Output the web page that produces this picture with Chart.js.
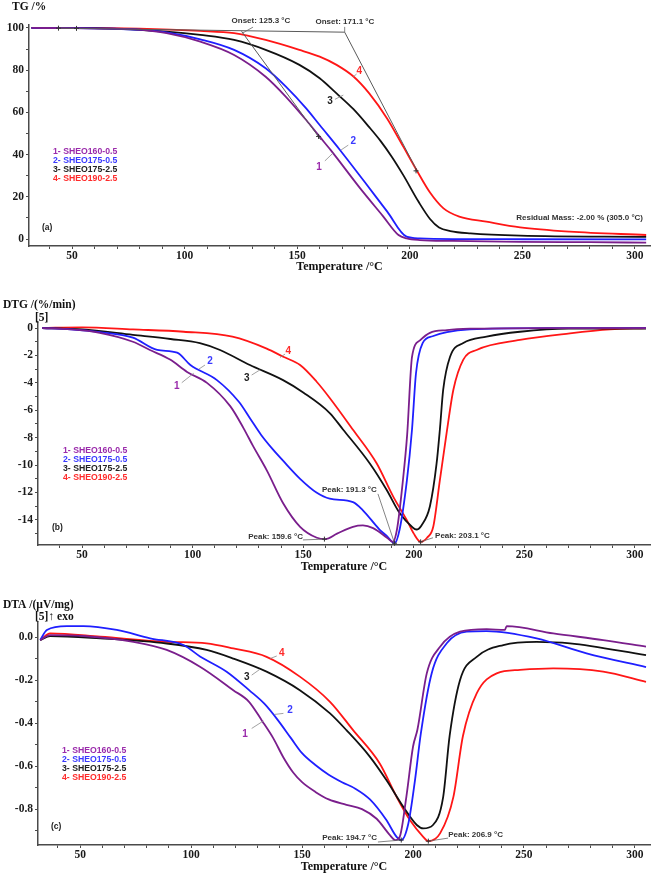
<!DOCTYPE html>
<html><head><meta charset="utf-8">
<script src="https://cdn.jsdelivr.net/npm/chart.js@4.4.1/dist/chart.umd.min.js"></script>
<style>
html,body{margin:0;padding:0;background:#fff;}
#wrap{position:relative;width:653px;height:875px;overflow:hidden;background:#fff;}
canvas{position:absolute;left:0;}
</style></head><body>
<div id="wrap">
<canvas id="cA" width="653" height="290" style="top:0px;width:653px;height:290px"></canvas>
<canvas id="cB" width="653" height="300" style="top:290px;width:653px;height:300px"></canvas>
<canvas id="cC" width="653" height="285" style="top:590px;width:653px;height:285px"></canvas>
</div>
<script>
// ---------- series names ----------
const seriesNames = ['1- SHEO160-0.5', '2- SHEO175-0.5', '3- SHEO175-2.5', '4- SHEO190-2.5'];
const curveNumbers = ['1', '2', '3', '4'];

// ---------- TG (%) ----------
const tgT1 = [32, 50, 65, 77, 92, 107, 122, 136, 145, 154, 160, 165, 178, 188, 195, 198.6, 204.5, 219, 249, 280, 305];
const tg1  = [100, 99.9, 99.7, 99.4, 97.5, 93.5, 87.2, 76.9, 67.4, 56.4, 48.5, 42, 24, 11, 1.9, 0.3, -0.5, -0.9, -1.3, -1.5, -1.7];
const tgT2 = [32, 50, 65, 80, 92, 107, 122, 136, 145, 154, 160, 169, 180, 190, 198.6, 204.5, 219, 250, 305];
const tg2  = [100, 99.9, 99.7, 99.2, 97.9, 94.6, 89.6, 80.9, 72.2, 61.9, 54, 42.2, 27, 13, 1.1, 0.3, 0, -0.1, -0.2];
const tgT3 = [32, 50, 70, 92, 107, 122, 136, 151, 160, 167.5, 175, 182, 187, 192, 197, 204, 209, 213, 218, 227, 249, 305];
const tg3  = [100, 100, 99.6, 98.3, 96.7, 94.3, 89.6, 82.5, 76.2, 69, 61.5, 53, 46.5, 39, 30.5, 17.5, 9.5, 5.5, 3.8, 2.7, 1.6, 1.0];
const tgT4 = [32, 50, 80, 107, 122, 136, 151, 160, 167.5, 175, 182, 190, 197, 203, 209, 215, 222, 234, 249, 271, 305];
const tg4  = [100, 100, 99.7, 98.6, 97.5, 94.3, 89.6, 86.4, 82.5, 77, 69, 57, 44, 32.7, 22, 14.5, 10.6, 8.2, 5.5, 3.5, 1.9];
// onset construction lines
const onsetBaseT = [44, 171.1], onsetBase = [99.9, 98.0];
const onset1T = [125.3, 160.5], onset1 = [98.4, 47];
const onset2T = [171.1, 203.5], onset2 = [98.0, 31.8];

// ---------- DTG (%/min) ----------
const dtgT1 = [32, 45, 58, 73, 80.7, 89.8, 97.5, 106.5, 117, 123, 127.3, 133.6, 141, 148.6, 156.2, 160, 165.3, 172.5, 177, 181.6, 187.9, 190.5, 192.4, 195.1, 197, 199.2, 202.8, 207.3, 215, 225.4, 260, 305];
const dtg1  = [0, -0.1, -0.35, -1.0, -1.6, -2.3, -3.2, -4.0, -5.7, -7.3, -8.6, -10.4, -12.8, -14.5, -15.3, -15.4, -15.0, -14.5, -14.4, -14.6, -15.3, -15.6, -14.7, -11.1, -7.8, -2.1, -0.9, -0.35, -0.15, -0.05, 0, 0];
const dtgT2 = [32, 45, 58, 73, 84, 93, 99, 111, 121, 126, 131, 136, 141, 148.6, 156, 162, 172.5, 177, 184.5, 188, 191.3, 193.6, 196.9, 199.2, 201, 204, 208.5, 215, 225.4, 260, 305];
const dtg2  = [0, -0.1, -0.3, -0.7, -1.6, -1.8, -2.7, -3.8, -5.4, -6.6, -7.8, -8.8, -9.7, -11.0, -12.0, -12.45, -12.7, -13.3, -14.7, -15.2, -15.7, -14.7, -11.1, -7.4, -3.3, -1.1, -0.6, -0.3, -0.1, 0, 0];
const dtgT3 = [32, 50, 73, 90, 103.3, 112.4, 125.9, 140.9, 150, 162, 168, 180.2, 187.7, 193.6, 199.5, 201.2, 203.5, 207.3, 210.3, 211.8, 213.3, 216.4, 222.4, 232.9, 248, 270, 305];
const dtg3  = [0, -0.1, -0.5, -0.8, -1.1, -1.6, -2.7, -3.8, -4.7, -6.2, -7.4, -9.9, -11.8, -13.5, -14.55, -14.7, -14.4, -13.0, -9.9, -7.4, -4.5, -2.1, -1.1, -0.63, -0.27, -0.05, -0.05];
const dtgT4 = [32, 50, 73, 96, 118, 133.5, 141, 148.6, 156, 162, 172.6, 183.2, 190.7, 196.8, 200, 203.1, 206, 208.8, 211.8, 214.9, 217.9, 222.4, 228.4, 248, 270.6, 288.7, 305];
const dtg4  = [0, 0.05, -0.1, -0.27, -0.63, -1.5, -2.1, -2.7, -3.9, -5.1, -7.44, -9.87, -12.3, -14.0, -15.0, -15.6, -15.3, -14.5, -11.1, -7.6, -4.5, -2.3, -1.6, -0.87, -0.39, -0.1, 0];

// ---------- DTA (µV/mg) ----------
const dtaT1 = [32, 36.5, 51.5, 74, 89, 104, 119, 126, 132, 137, 141.6, 146, 150, 156, 162, 170, 177, 183.6, 189.6, 192, 194, 197, 200, 202, 206.2, 212.2, 221.2, 233.2, 241.4, 242.2, 263.2, 285.7, 305];
const dta1  = [-0.014, 0.009, 0.005, -0.022, -0.06, -0.138, -0.247, -0.30, -0.39, -0.47, -0.56, -0.63, -0.675, -0.72, -0.755, -0.78, -0.80, -0.845, -0.921, -0.944, -0.929, -0.743, -0.51, -0.43, -0.169, -0.045, 0.025, 0.037, 0.033, 0.051, 0.017, -0.014, -0.045];
const dtaT2 = [32, 35, 44, 51.5, 66.5, 81.5, 96.5, 104, 116, 126.5, 133, 139, 145, 150, 156, 162, 168, 174, 180.6, 188, 192.6, 194.7, 197.9, 200.9, 203.5, 208.4, 215.2, 224.2, 233.2, 255.7, 278.2, 305];
const dta2  = [-0.014, 0.033, 0.051, 0.051, 0.033, -0.006, -0.037, -0.09, -0.161, -0.25, -0.31, -0.385, -0.47, -0.54, -0.595, -0.64, -0.675, -0.705, -0.755, -0.851, -0.929, -0.944, -0.867, -0.665, -0.45, -0.169, -0.029, 0.025, 0.028, -0.006, -0.076, -0.14];
const dtaT3 = [32, 36.5, 59, 89, 107, 119, 134, 149, 162.6, 170, 180.6, 188, 195.6, 201.7, 204.6, 209, 213.6, 216.5, 221.2, 228.7, 240.7, 255.7, 270.7, 305];
const dta3  = [-0.014, 0.005, -0.006, -0.03, -0.06, -0.1, -0.161, -0.247, -0.355, -0.433, -0.557, -0.665, -0.789, -0.874, -0.89, -0.874, -0.743, -0.46, -0.2, -0.092, -0.037, -0.022, -0.029, -0.084];
const dtaT4 = [32, 36.5, 59, 89, 107, 119, 134, 149, 162.6, 173, 185, 192.6, 198.6, 204.6, 206.9, 212.2, 218.2, 222.5, 228.7, 237.7, 248.2, 263.2, 285.7, 305];
const dta4  = [-0.014, 0.017, 0.002, -0.022, -0.029, -0.053, -0.092, -0.184, -0.301, -0.433, -0.588, -0.743, -0.851, -0.929, -0.949, -0.913, -0.743, -0.46, -0.262, -0.169, -0.153, -0.146, -0.161, -0.208];

// ---------- styling ----------
const curveColors  = ['#7a1e8c', '#1f1fff', '#111111', '#ff1616'];
const legendColors = ['#9a2aab', '#3a3aff', '#222222', '#ff2a2a'];
const SERIF = '"Liberation Serif","Times New Roman",serif';
const SANS = '"Liberation Sans",Arial,sans-serif';
const AXIS = '#4a4a4a';

function pts(T, V) { return T.map((t, i) => ({ x: t, y: V[i] })); }

function curveSet(T, V, i) {
  return { label: seriesNames[i], data: pts(T, V), borderColor: curveColors[i], borderWidth: 1.8,
           pointRadius: 0, cubicInterpolationMode: 'monotone', fill: false };
}
function guideSet(T, V) {
  return { label: '', data: pts(T, V), borderColor: '#5a5a5a', borderWidth: 1, pointRadius: 0, tension: 0, fill: false };
}

function decor(cfg) {
  return {
    id: 'decor',
    afterDraw(chart) {
      const ctx = chart.ctx, xs = chart.scales.x, ys = chart.scales.y;
      const px = t => xs.getPixelForValue(t), py = v => ys.getPixelForValue(v);
      const area = chart.chartArea;
      ctx.save();
      ctx.textBaseline = 'middle';
      ctx.fillStyle = '#111'; ctx.textAlign = 'left';
      ctx.font = 'bold 11.5px ' + SERIF;
      ctx.fillText(cfg.title[0], cfg.title[1], cfg.title[2]);
      if (cfg.sub) ctx.fillText(cfg.sub[0], cfg.sub[1], cfg.sub[2]);
      ctx.textAlign = 'center';
      ctx.font = 'bold 12px ' + SERIF;
      ctx.fillText('Temperature /°C', (area.left + area.right) / 2, cfg.xTitleY);
      ctx.textAlign = 'left'; ctx.fillStyle = '#222';
      ctx.font = 'bold 8.5px ' + SANS;
      ctx.fillText(cfg.letter[0], cfg.letter[1], cfg.letter[2]);
      ctx.font = 'bold 8.7px ' + SANS;
      seriesNames.forEach((s, i) => {
        ctx.fillStyle = legendColors[i];
        ctx.fillText(s, cfg.legend[0], cfg.legend[1] + i * cfg.legend[2]);
      });
      ctx.strokeStyle = '#8a8a8a'; ctx.lineWidth = 0.8;
      cfg.numbers.forEach(n => {
        ctx.beginPath(); ctx.moveTo(px(n.from[0]), py(n.from[1])); ctx.lineTo(px(n.to[0]), py(n.to[1])); ctx.stroke();
      });
      ctx.strokeStyle = '#666';
      cfg.notes.forEach(n => {
        if (!n.from) return;
        ctx.beginPath(); ctx.moveTo(px(n.from[0]), py(n.from[1])); ctx.lineTo(px(n.to[0]), py(n.to[1])); ctx.stroke();
      });
      ctx.font = 'bold 10px ' + SANS; ctx.textAlign = 'center';
      cfg.numbers.forEach(n => {
        ctx.fillStyle = legendColors[n.c];
        ctx.fillText(curveNumbers[n.c], px(n.at[0]), py(n.at[1]));
      });
      ctx.font = 'bold 8px ' + SANS; ctx.fillStyle = '#333';
      cfg.notes.forEach(n => {
        ctx.textAlign = n.align || 'center';
        ctx.fillText(n.text, px(n.at[0]), py(n.at[1]));
      });
      ctx.strokeStyle = '#333'; ctx.lineWidth = 1;
      cfg.marks.forEach(m => {
        const x = px(m[0]), y = py(m[1]);
        ctx.beginPath(); ctx.moveTo(x - 2.5, y); ctx.lineTo(x + 2.5, y); ctx.moveTo(x, y - 2.5); ctx.lineTo(x, y + 2.5); ctx.stroke();
      });
      ctx.restore();
    }
  };
}

function makeChart(id, datasets, sc, cfg) {
  const tickFont = { family: SERIF, size: 11.5, weight: 'bold' };
  new Chart(document.getElementById(id), {
    type: 'line',
    data: { datasets },
    plugins: [decor(cfg)],
    options: {
      responsive: false, animation: false, devicePixelRatio: 1,
      layout: { padding: { top: sc.top, right: 3, left: 0, bottom: 0 } },
      plugins: { legend: { display: false }, tooltip: { enabled: false } },
      elements: { point: { radius: 0 } },
      scales: {
        x: {
          type: 'linear', min: sc.xmin, max: sc.xmax,
          afterFit: s => { s.height = sc.xh; },
          border: { display: true, color: AXIS, width: 1.5 },
          grid: { display: true, drawOnChartArea: false, drawTicks: true, tickLength: 3, color: AXIS },
          ticks: { stepSize: 10, autoSkip: false, includeBounds: false, maxRotation: 0, padding: 0,
                   color: '#1a1a1a', font: tickFont,
                   callback: v => (Math.round(v) % 50 === 0 ? String(Math.round(v)) : '') }
        },
        y: {
          type: 'linear', min: sc.ymin, max: sc.ymax,
          afterFit: s => { s.width = sc.yw; },
          border: { display: true, color: AXIS, width: 1.5 },
          grid: { display: true, drawOnChartArea: false, drawTicks: true, tickLength: 3, color: AXIS },
          ticks: { stepSize: sc.ystep, autoSkip: false, includeBounds: false, padding: 2,
                   color: '#1a1a1a', font: tickFont, callback: sc.ylab }
        }
      }
    }
  });
}

// ---------- panel (a) TG ----------
makeChart('cA', [
  guideSet(onsetBaseT, onsetBase), guideSet(onset1T, onset1), guideSet(onset2T, onset2),
  curveSet(tgT1, tg1, 0), curveSet(tgT2, tg2, 1), curveSet(tgT3, tg3, 2), curveSet(tgT4, tg4, 3)
], { top: 25, xh: 44, yw: 29, xmin: 30.9, xmax: 306.7, ymin: -3.3, ymax: 101.4, ystep: 10,
     ylab: v => (Math.round(v) % 20 === 0 ? String(Math.round(v)) : '') },
{ title: ['TG /%', 12, 7], sub: null, letter: ['(a)', 42, 228], legend: [53, 152, 8.8], xTitleY: 267,
  numbers: [
    { c: 0, at: [159.7, 34.1], from: [162.3, 37], to: [166, 40.8] },
    { c: 1, at: [174.9, 46.1], from: [172.7, 44.5], to: [169.5, 42.2] },
    { c: 2, at: [164.6, 65.1], from: [166.8, 66.2], to: [170.5, 68.2] },
    { c: 3, at: [177.6, 79.3], from: [176.4, 78.2], to: [174.9, 76.8] }
  ],
  notes: [
    { text: 'Onset: 125.3 °C', at: [133.9, 103.3], from: [130.4, 100.4], to: [125.8, 97.6] },
    { text: 'Onset: 171.1 °C', at: [171.2, 102.8], from: [171.1, 100.5], to: [171.1, 98.0] },
    { text: 'Residual Mass: -2.00 % (305.0 °C)', at: [303.6, 10], align: 'right' }
  ],
  marks: [[44, 99.9], [52, 99.8], [159.5, 48.6], [202.8, 32.3]]
});

// ---------- panel (b) DTG ----------
makeChart('cB', [
  curveSet(dtgT1, dtg1, 0), curveSet(dtgT2, dtg2, 1), curveSet(dtgT3, dtg3, 2), curveSet(dtgT4, dtg4, 3)
], { top: 32, xh: 45, yw: 38, xmin: 30.1, xmax: 306.8, ymin: -15.83, ymax: 0.44, ystep: 1,
     ylab: v => (Math.round(v) % 2 === 0 ? String(Math.round(v) === 0 ? 0 : Math.round(v)) : '') },
{ title: ['DTG /(%/min)', 3, 15], sub: ['[5]', 35, 28.5], letter: ['(b)', 52, 238], legend: [63, 161, 8.9], xTitleY: 277,
  numbers: [
    { c: 0, at: [92.8, -4.28], from: [95.1, -3.99], to: [100.5, -3.3] },
    { c: 1, at: [107.9, -2.46], from: [105.6, -2.7], to: [102.8, -3.0] },
    { c: 2, at: [124.5, -3.67], from: [126.7, -3.43], to: [130.5, -3.05] },
    { c: 3, at: [143.3, -1.73], from: [141.8, -1.9], to: [139.5, -2.15] }
  ],
  notes: [
    { text: 'Peak: 159.6 °C', at: [137.5, -15.24], from: [149.9, -15.46], to: [159.6, -15.4] },
    { text: 'Peak: 191.3 °C', at: [170.9, -11.82], from: [183.8, -12.1], to: [191.3, -15.7] },
    { text: 'Peak: 203.1 °C', at: [222, -15.17], from: [208.7, -15.3], to: [203.1, -15.6] }
  ],
  marks: [[159.6, -15.4], [191.3, -15.7], [203.1, -15.6]]
});

// ---------- panel (c) DTA ----------
makeChart('cC', [
  curveSet(dtaT1, dta1, 0), curveSet(dtaT2, dta2, 1), curveSet(dtaT3, dta3, 2), curveSet(dtaT4, dta4, 3)
], { top: 32, xh: 30, yw: 38, xmin: 31, xmax: 306.8, ymin: -0.967, ymax: 0.07, ystep: 0.1,
     ylab: v => { const k = Math.round(v * 10); return k % 2 === 0 ? (k / 10 === 0 ? '0.0' : (k / 10).toFixed(1)) : ''; } },
{ title: ['DTA /(µV/mg)', 3, 15], sub: ['[5]↑ exo', 35, 27], letter: ['(c)', 51, 237], legend: [62, 160.7, 8.9], xTitleY: 277,
  numbers: [
    { c: 0, at: [124.3, -0.451], from: [127.3, -0.425], to: [132.6, -0.39] },
    { c: 1, at: [144.6, -0.34], from: [141.6, -0.355], to: [137.5, -0.36] },
    { c: 2, at: [125.1, -0.188], from: [127.3, -0.177], to: [131, -0.15] },
    { c: 3, at: [140.9, -0.073], from: [138.6, -0.088], to: [135.6, -0.1] }
  ],
  notes: [
    { text: 'Peak: 194.7 °C', at: [171.4, -0.935], from: [184.2, -0.953], to: [194.7, -0.944] },
    { text: 'Peak: 206.9 °C', at: [228.2, -0.921], from: [215.8, -0.935], to: [206.9, -0.949] }
  ],
  marks: [[194.7, -0.944], [206.9, -0.949]]
});
</script>
</body></html>
